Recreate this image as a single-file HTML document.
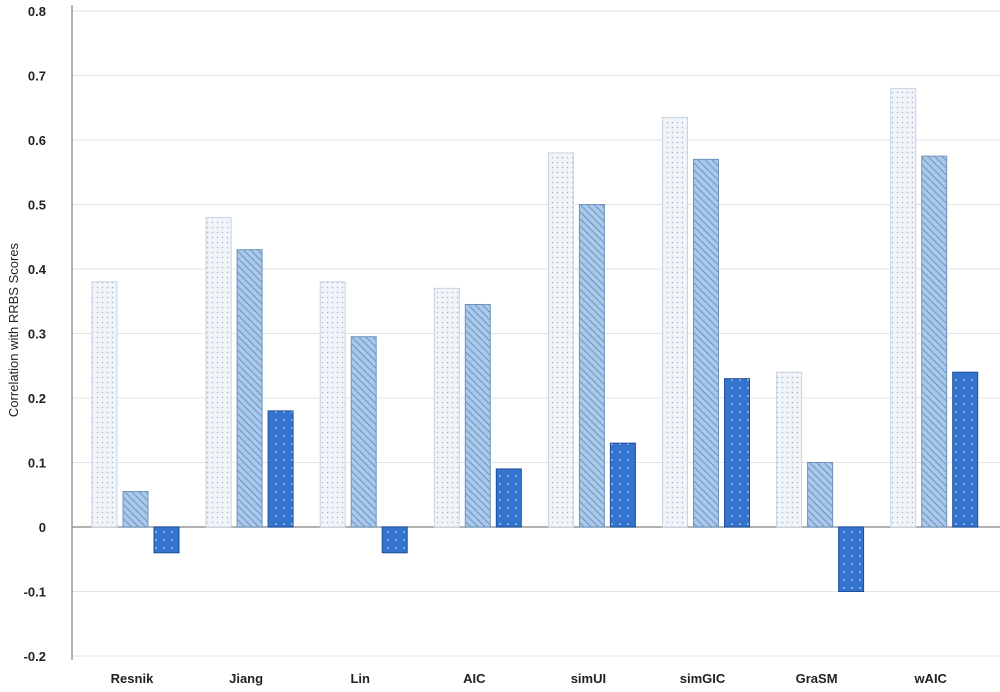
<!DOCTYPE html>
<html><head><meta charset="utf-8">
<style>
body{margin:0;background:#fff;}
svg{display:block;font-family:"Liberation Sans",sans-serif;}
</style></head>
<body>
<svg id="chart" width="1000" height="692" viewBox="0 0 1000 692">
<defs>
<pattern id="dots" width="5" height="5" patternUnits="userSpaceOnUse"><rect width="5" height="5" fill="#f1f5fa"/><circle cx="2.5" cy="2.5" r="0.8" fill="#a9b9cc"/></pattern>
<pattern id="hatch" width="5" height="5" patternUnits="userSpaceOnUse" patternTransform="rotate(-45)"><rect width="5" height="5" fill="#a9c8ea"/><line x1="0" y1="0" x2="0" y2="5" stroke="#5d86b6" stroke-width="1.6"/></pattern>
<pattern id="bdots" width="8" height="8" patternUnits="userSpaceOnUse"><rect width="8" height="8" fill="#3474cf"/><circle cx="4" cy="4" r="0.9" fill="#b8d2f2"/></pattern>
</defs>
<g id="grid"></g>
<g id="bars"></g>
<g id="labels"></g>
</svg>
<script>
const categories=["Resnik","Jiang","Lin","AIC","simUI","simGIC","GraSM","wAIC"];
const series1=[0.38,0.48,0.38,0.37,0.58,0.635,0.24,0.68];
const series2=[0.055,0.43,0.295,0.345,0.50,0.57,0.10,0.575];
const series3=[-0.04,0.18,-0.04,0.09,0.13,0.23,-0.10,0.24];
const yTicks=["-0.2","-0.1","0","0.1","0.2","0.3","0.4","0.5","0.6","0.7","0.8"];
const NS="http://www.w3.org/2000/svg";
function y(v){return 527-v*645;}
function gx(i){return 136+i*114.1;}
function mk(tag,attrs,parent){const e=document.createElementNS(NS,tag);for(const k in attrs)e.setAttribute(k,attrs[k]);parent.appendChild(e);return e;}
const grid=document.getElementById('grid'),bars=document.getElementById('bars'),labels=document.getElementById('labels');
yTicks.forEach(t=>{const v=parseFloat(t);
 const l=mk('line',{x1:72,x2:1000,y1:y(v),y2:y(v),stroke:v===0?'#999':'#e3e3e3','stroke-width':v===0?1.5:1},grid);
 
 
 const tx=mk('text',{x:46,y:y(v)+5,'text-anchor':'end','font-size':13,'font-weight':'bold',fill:'#222'},labels);
 tx.textContent=t;
 
 
});
const ax=mk('line',{x1:72,x2:72,y1:5,y2:660,stroke:'#999','stroke-width':1.5},grid);


const yt=mk('text',{x:0,y:0,transform:'translate(18,330) rotate(-90)','text-anchor':'middle','font-size':13,fill:'#222'},labels);
yt.textContent='Correlation with RRBS Scores';


const all=[[series1,'url(#dots)','#c8d3df'],[series2,'url(#hatch)','#6f93bd'],[series3,'url(#bdots)','#1d4f9a']];
categories.forEach((c,i)=>{
 all.forEach((s,j)=>{const v=s[0][i];const x=gx(i)-44+j*31;
  const r=mk('rect',{x:x,y:Math.min(y(v),y(0)),width:25,height:Math.abs(y(v)-y(0)),fill:s[1],stroke:s[2],'stroke-width':1},bars);
  
  
 });
 const t=mk('text',{x:gx(i)-4,y:683,'text-anchor':'middle','font-size':13,'font-weight':'bold',fill:'#222'},labels);
 t.textContent=c;
 
 
});
</script>
</body></html>
